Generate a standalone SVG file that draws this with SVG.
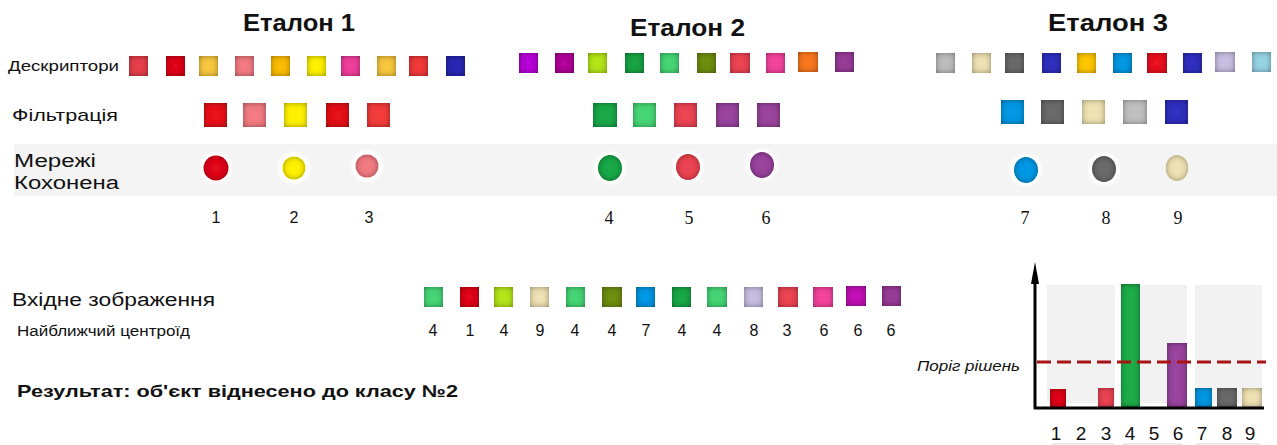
<svg xmlns="http://www.w3.org/2000/svg" width="1277" height="445" viewBox="0 0 1277 445">
<style>
.t{font-family:"Liberation Sans",Arial,sans-serif;fill:#111}
.title{font-size:24px;font-weight:bold}
.num{font-family:"Liberation Sans",Arial,sans-serif;font-size:16px;fill:#111;text-anchor:middle}
.nums{font-family:"Liberation Serif","Times New Roman",serif;font-size:18px;fill:#111;text-anchor:middle}
.sq{filter:url(#inner)}
.halo{fill:#fff;filter:url(#soft)}
.panel{fill:#f2f2f2}
</style>
<defs>
<filter id="inner" x="-20%" y="-20%" width="140%" height="140%">
<feGaussianBlur in="SourceAlpha" stdDeviation="3" result="b"/>
<feComposite in="SourceAlpha" in2="b" operator="arithmetic" k2="1" k3="-1" result="edge"/>
<feFlood flood-color="#000" flood-opacity="0.8"/>
<feComposite in2="edge" operator="in" result="sh"/>
<feMerge><feMergeNode in="SourceGraphic"/><feMergeNode in="sh"/></feMerge>
</filter>
<filter id="soft" x="-50%" y="-50%" width="200%" height="200%">
<feGaussianBlur stdDeviation="1.5"/>
</filter>
<marker id="arr" markerWidth="22" markerHeight="8" refX="0" refY="4" orient="auto" markerUnits="userSpaceOnUse" viewBox="0 0 22 8">
<path d="M0 0 L22 4 L0 8 Z" fill="#000"/>
</marker>
</defs>
<rect width="1277" height="445" fill="#fff"/>

<rect x="14" y="144" width="1263" height="52" fill="#f4f4f4"/>

<g id="titles" class="t title">
<text x="243" y="31" textLength="112" lengthAdjust="spacingAndGlyphs">Еталон 1</text>
<text x="630" y="36" textLength="115" lengthAdjust="spacingAndGlyphs">Еталон 2</text>
<text x="1048" y="31" textLength="120" lengthAdjust="spacingAndGlyphs">Еталон 3</text>
</g>

<g id="row-labels" class="t">
<text x="8" y="71" font-size="14" textLength="111" lengthAdjust="spacingAndGlyphs">Дескриптори</text>
<text x="12" y="121" font-size="17" textLength="106" lengthAdjust="spacingAndGlyphs">Фільтрація</text>
<text x="14" y="167" font-size="18" textLength="82" lengthAdjust="spacingAndGlyphs">Мережі</text>
<text x="14" y="189" font-size="18" textLength="105" lengthAdjust="spacingAndGlyphs">Кохонена</text>
<text x="12" y="306" font-size="18" textLength="203" lengthAdjust="spacingAndGlyphs">Вхідне зображення</text>
<text x="17" y="336" font-size="14" textLength="173" lengthAdjust="spacingAndGlyphs">Найближчий центроїд</text>
<text x="17" y="397" font-size="17" font-weight="bold" textLength="441" lengthAdjust="spacingAndGlyphs">Результат: об'єкт віднесено до класу №2</text>
</g>

<g id="descriptors-1">
<rect class="sq" x="129" y="56" width="19" height="20" fill="#e5404c"/>
<rect class="sq" x="166" y="56" width="19" height="20" fill="#e0101e"/>
<rect class="sq" x="199" y="56" width="19" height="20" fill="#f7c840"/>
<rect class="sq" x="235" y="56" width="19" height="20" fill="#f27c82"/>
<rect class="sq" x="271" y="56" width="19" height="20" fill="#fdbb0c"/>
<rect class="sq" x="307" y="56" width="19" height="20" fill="#fff200"/>
<rect class="sq" x="341" y="56" width="19" height="20" fill="#f0409c"/>
<rect class="sq" x="377" y="56" width="19" height="20" fill="#f7c840"/>
<rect class="sq" x="409" y="56" width="19" height="20" fill="#f23a3a"/>
<rect class="sq" x="446" y="56" width="19" height="20" fill="#2c2cb4"/>
</g>
<g id="descriptors-2">
<rect class="sq" x="519" y="53" width="19" height="20" fill="#b80ad8"/>
<rect class="sq" x="555" y="53" width="19" height="20" fill="#b0109a"/>
<rect class="sq" x="588" y="53" width="19" height="20" fill="#b4e61e"/>
<rect class="sq" x="625" y="53" width="19" height="20" fill="#1aa444"/>
<rect class="sq" x="660" y="53" width="19" height="20" fill="#46d676"/>
<rect class="sq" x="697" y="53" width="19" height="20" fill="#6e8e12"/>
<rect class="sq" x="730" y="53" width="20" height="20" fill="#ec4452"/>
<rect class="sq" x="766" y="53" width="19" height="20" fill="#f4449c"/>
<rect class="sq" x="798" y="52" width="20" height="20" fill="#f87820"/>
<rect class="sq" x="835" y="52" width="19" height="20" fill="#983e98"/>
</g>
<g id="descriptors-3">
<rect class="sq" x="936" y="53" width="19" height="20" fill="#bdbdbd"/>
<rect class="sq" x="972" y="53" width="19" height="20" fill="#efe2b4"/>
<rect class="sq" x="1005" y="53" width="19" height="20" fill="#6a6a6a"/>
<rect class="sq" x="1042" y="53" width="19" height="20" fill="#3030c0"/>
<rect class="sq" x="1077" y="53" width="19" height="20" fill="#ffc800"/>
<rect class="sq" x="1113" y="53" width="19" height="20" fill="#0098e4"/>
<rect class="sq" x="1147" y="53" width="20" height="20" fill="#ea1424"/>
<rect class="sq" x="1183" y="53" width="19" height="20" fill="#3030c0"/>
<rect class="sq" x="1215" y="52" width="20" height="20" fill="#c8bee2"/>
<rect class="sq" x="1252" y="52" width="19" height="20" fill="#96d4e4"/>
</g>

<g id="filtration-1">
<rect class="sq" x="204" y="103" width="23" height="24" fill="#e8141e"/>
<rect class="sq" x="243" y="103" width="23" height="24" fill="#f27c82"/>
<rect class="sq" x="284" y="103" width="23" height="24" fill="#fff200"/>
<rect class="sq" x="326" y="103" width="23" height="24" fill="#e4141e"/>
<rect class="sq" x="367" y="103" width="23" height="24" fill="#f43c3c"/>
</g>
<g id="filtration-2">
<rect class="sq" x="593" y="103" width="24" height="24" fill="#1ea84a"/>
<rect class="sq" x="633" y="103" width="23" height="24" fill="#46d676"/>
<rect class="sq" x="674" y="103" width="23" height="24" fill="#ec4452"/>
<rect class="sq" x="716" y="103" width="23" height="24" fill="#9a449e"/>
<rect class="sq" x="757" y="103" width="23" height="24" fill="#9a449e"/>
</g>
<g id="filtration-3">
<rect class="sq" x="1001" y="100" width="23" height="24" fill="#0098e4"/>
<rect class="sq" x="1041" y="100" width="23" height="24" fill="#6a6a6a"/>
<rect class="sq" x="1082" y="100" width="23" height="24" fill="#efe2b4"/>
<rect class="sq" x="1123" y="100" width="24" height="24" fill="#c0c0c0"/>
<rect class="sq" x="1165" y="100" width="23" height="24" fill="#3030c0"/>
</g>

<g id="kohonen-1">
<circle class="halo" cx="216" cy="168" r="16"/><circle class="sq" cx="216" cy="168" r="12.5" fill="#e0101e"/>
<text class="num" x="216" y="223">1</text>
</g>
<g id="kohonen-2">
<circle class="halo" cx="294" cy="168" r="16"/><circle class="sq" cx="294" cy="168" r="11.5" fill="#fff200"/>
<text class="num" x="294" y="223">2</text>
</g>
<g id="kohonen-3">
<circle class="halo" cx="367" cy="166" r="16"/><circle class="sq" cx="367" cy="166" r="11.5" fill="#f27c82"/>
<text class="num" x="369" y="223">3</text>
</g>
<g id="kohonen-4">
<circle class="halo" cx="610" cy="168" r="16"/><ellipse class="sq" cx="610" cy="168" rx="12" ry="13" fill="#1ea84a"/>
<text class="nums" x="609" y="224">4</text>
</g>
<g id="kohonen-5">
<circle class="halo" cx="688" cy="167" r="16"/><ellipse class="sq" cx="688" cy="167" rx="12" ry="13" fill="#ec4452"/>
<text class="nums" x="689" y="224">5</text>
</g>
<g id="kohonen-6">
<circle class="halo" cx="762" cy="165" r="16"/><ellipse class="sq" cx="762" cy="165" rx="12" ry="13" fill="#9a449e"/>
<text class="nums" x="766" y="224">6</text>
</g>
<g id="kohonen-7">
<circle class="halo" cx="1026" cy="170" r="16"/><ellipse class="sq" cx="1026" cy="170" rx="12" ry="13" fill="#0098e4"/>
<text class="nums" x="1025" y="224">7</text>
</g>
<g id="kohonen-8">
<circle class="halo" cx="1104" cy="169" r="16"/><ellipse class="sq" cx="1104" cy="169" rx="12" ry="13" fill="#6a6a6a"/>
<text class="nums" x="1106" y="224">8</text>
</g>
<g id="kohonen-9">
<ellipse class="sq" cx="1177" cy="168" rx="11.5" ry="13" fill="#efe2b4"/>
<text class="nums" x="1178" y="224">9</text>
</g>

<g id="input-image">
<rect class="sq" x="424" y="287" width="19" height="20" fill="#46d676"/>
<rect class="sq" x="460" y="287" width="19" height="20" fill="#e0101e"/>
<rect class="sq" x="494" y="287" width="19" height="20" fill="#b4e61e"/>
<rect class="sq" x="530" y="287" width="19" height="20" fill="#efe2b4"/>
<rect class="sq" x="566" y="287" width="19" height="20" fill="#46d676"/>
<rect class="sq" x="602" y="287" width="20" height="20" fill="#6e8e12"/>
<rect class="sq" x="636" y="287" width="19" height="20" fill="#0098e4"/>
<rect class="sq" x="672" y="287" width="19" height="20" fill="#1ea84a"/>
<rect class="sq" x="707" y="287" width="20" height="20" fill="#46d676"/>
<rect class="sq" x="744" y="287" width="19" height="20" fill="#c8bee2"/>
<rect class="sq" x="778" y="287" width="20" height="20" fill="#ec4452"/>
<rect class="sq" x="813" y="287" width="20" height="20" fill="#f4449c"/>
<rect class="sq" x="846" y="286" width="20" height="20" fill="#c018b4"/>
<rect class="sq" x="882" y="286" width="19" height="20" fill="#983e98"/>
</g>
<g id="nearest-centroid">
<text class="num" x="433" y="336">4</text>
<text class="num" x="470" y="336">1</text>
<text class="num" x="504" y="336">4</text>
<text class="num" x="540" y="336">9</text>
<text class="num" x="575" y="336">4</text>
<text class="num" x="612" y="336">4</text>
<text class="num" x="646" y="336">7</text>
<text class="num" x="682" y="336">4</text>
<text class="num" x="717" y="336">4</text>
<text class="num" x="754" y="336">8</text>
<text class="num" x="787" y="336">3</text>
<text class="num" x="824" y="336">6</text>
<text class="num" x="858" y="336">6</text>
<text class="num" x="891" y="336">6</text>
</g>

<g id="histogram">
<rect class="panel" x="1047" y="285" width="68" height="118"/>
<rect class="panel" x="1120" y="285" width="67" height="118"/>
<rect class="panel" x="1195" y="285" width="67" height="118"/>
<rect x="1116" y="285" width="4" height="118" fill="#fff"/>
<rect class="sq" x="1050" y="389" width="16" height="18" fill="#e0101e"/>
<rect class="sq" x="1098" y="388" width="16" height="19" fill="#ec4452"/>
<rect class="sq" x="1121" y="284" width="19" height="123" fill="#22ac4a"/>
<rect class="sq" x="1167" y="343" width="20" height="64" fill="#9a449e"/>
<rect class="sq" x="1195" y="388" width="17" height="19" fill="#0098e4"/>
<rect class="sq" x="1217" y="388" width="20" height="19" fill="#6a6a6a"/>
<rect class="sq" x="1242" y="388" width="20" height="19" fill="#efe2b4"/>
<line x1="1037" y1="362" x2="1266" y2="362" stroke="#a81414" stroke-width="3" stroke-dasharray="14 6"/>
<text class="t" x="917" y="371" font-size="14" font-style="italic" textLength="103" lengthAdjust="spacingAndGlyphs">Поріг рішень</text>
<g class="num" style="font-size:19px">
<text x="1056" y="440">1</text>
<text x="1081" y="440">2</text>
<text x="1106" y="440">3</text>
<text x="1130" y="440">4</text>
<text x="1154" y="440">5</text>
<text x="1178" y="440">6</text>
<text x="1202" y="440">7</text>
<text x="1227" y="440">8</text>
<text x="1250" y="440">9</text>
</g>
<g fill="#ececec">
<rect x="1052" y="443" width="62" height="2"/>
<rect x="1123" y="443" width="60" height="2"/>
<rect x="1196" y="443" width="64" height="2"/>
</g>
</g>

<g id="connectors" fill="none" stroke="#000" stroke-width="3">
<line x1="1035" y1="409" x2="1035" y2="284" marker-end="url(#arr)"/>
<line x1="1034" y1="408" x2="1264" y2="408"/>
</g>
</svg>
